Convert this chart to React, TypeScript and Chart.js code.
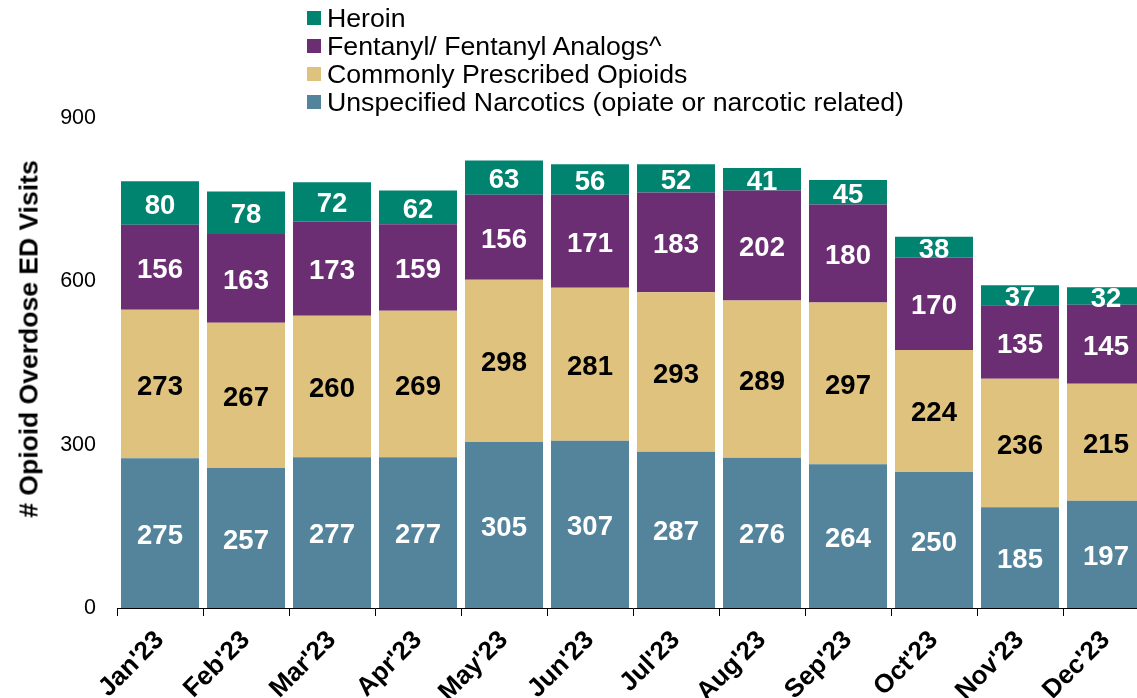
import React, { useEffect, useRef } from "react";
import { Chart, registerables } from "chart.js";

Chart.register(...registerables);

const categories = ["Jan'23", "Feb'23", "Mar'23", "Apr'23", "May'23", "Jun'23", "Jul'23", "Aug'23", "Sep'23", "Oct'23", "Nov'23", "Dec'23"];
const unspecified = [275, 257, 277, 277, 305, 307, 287, 276, 264, 250, 185, 197];
const prescribed = [273, 267, 260, 269, 298, 281, 293, 289, 297, 224, 236, 215];
const fentanyl = [156, 163, 173, 159, 156, 171, 183, 202, 180, 170, 135, 145];
const heroin = [80, 78, 72, 62, 63, 56, 52, 41, 45, 38, 37, 32];
const yTicks = [0, 300, 600, 900];

const COLORS = {
  heroin: "#008470",
  fentanyl: "#6b2e73",
  prescribed: "#dfc27e",
  unspecified: "#53849c",
};

const FONT = "'Liberation Sans', Arial, sans-serif";
const CANVAS_W = 1162;
const CANVAS_H = 698;
const PLOT_LEFT = 117;
const PLOT_RIGHT = 1149;
const PLOT_TOP = 118;
const PLOT_BOTTOM = 608;

const legendItems = [
  { label: "Heroin", color: COLORS.heroin },
  { label: "Fentanyl/ Fentanyl Analogs^", color: COLORS.fentanyl },
  { label: "Commonly Prescribed Opioids", color: COLORS.prescribed },
  { label: "Unspecified Narcotics (opiate or narcotic related)", color: COLORS.unspecified },
];

const labelPlugin = {
  id: "segLabels",
  afterDatasetsDraw(chart: any) {
    const ctx = chart.ctx;
    ctx.save();
    ctx.font = `bold 27.5px ${FONT}`;
    ctx.textAlign = "center";
    ctx.textBaseline = "middle";
    chart.data.datasets.forEach((ds: any, di: number) => {
      const meta = chart.getDatasetMeta(di);
      ctx.fillStyle = ds.labelColor;
      meta.data.forEach((el: any, i: number) => {
        const y = (el.y + el.base) / 2;
        ctx.fillText(String(ds.data[i]), el.x, y + 3);
      });
    });
    ctx.restore();
  },
};

export default function App() {
  const ref = useRef<HTMLCanvasElement | null>(null);
  useEffect(() => {
    if (!ref.current) return;
    const chart = new Chart(ref.current, {
      type: "bar",
      data: {
        labels: categories,
        datasets: [
          { label: "Unspecified Narcotics (opiate or narcotic related)", data: unspecified, backgroundColor: COLORS.unspecified, labelColor: "#ffffff" } as any,
          { label: "Commonly Prescribed Opioids", data: prescribed, backgroundColor: COLORS.prescribed, labelColor: "#000000" } as any,
          { label: "Fentanyl/ Fentanyl Analogs^", data: fentanyl, backgroundColor: COLORS.fentanyl, labelColor: "#ffffff" } as any,
          { label: "Heroin", data: heroin, backgroundColor: COLORS.heroin, labelColor: "#ffffff" } as any,
        ],
      },
      options: {
        responsive: false,
        animation: false,
        devicePixelRatio: 1,
        layout: { padding: { top: PLOT_TOP, right: CANVAS_W - PLOT_RIGHT, left: 0, bottom: 0 } },
        datasets: { bar: { barPercentage: 0.907, categoryPercentage: 1, borderWidth: 0 } },
        plugins: { legend: { display: false }, tooltip: { enabled: false } },
        scales: {
          x: {
            stacked: true,
            grid: { display: true, drawOnChartArea: false, drawTicks: true, tickLength: 8, color: "#000000", offset: true },
            border: { display: true, color: "#000000", width: 1 },
            ticks: {
              color: "#000000",
              font: { family: FONT, size: 26, weight: "bold" },
              maxRotation: 45,
              minRotation: 45,
              padding: 9,
            },
            afterFit(scale: any) {
              scale.height = CANVAS_H - PLOT_BOTTOM;
            },
          },
          y: {
            stacked: true,
            min: 0,
            max: 900,
            afterBuildTicks(scale: any) {
              scale.ticks = yTicks.map((v) => ({ value: v }));
            },
            grid: { display: false },
            border: { display: false },
            ticks: {
              color: "#000000",
              font: { family: FONT, size: 21.5 },
              padding: 13,
            },
            afterFit(scale: any) {
              scale.width = PLOT_LEFT;
            },
          },
        },
      },
      plugins: [labelPlugin],
    });
    return () => chart.destroy();
  }, []);

  return (
    <div style={{ position: "fixed", left: 0, top: 0, width: 1137, height: 698, overflow: "hidden", background: "#fff" }}>
      <canvas ref={ref} width={CANVAS_W} height={CANVAS_H} style={{ position: "absolute", left: 0, top: 0, width: CANVAS_W, height: CANVAS_H }} />
      <div style={{ position: "absolute", left: 307, top: 4, fontFamily: FONT, fontSize: 26.7, color: "#000", lineHeight: "28px" }}>
        {legendItems.map((it) => (
          <div key={it.label} style={{ display: "flex", alignItems: "center", height: 28, whiteSpace: "nowrap" }}>
            <span style={{ display: "inline-block", width: 14, height: 14, background: it.color, marginRight: 6 }} />
            <span>{it.label}</span>
          </div>
        ))}
      </div>
      <div
        style={{
          position: "absolute",
          left: 29,
          top: 339,
          transform: "translate(-50%, -50%) rotate(-90deg)",
          fontFamily: FONT,
          fontSize: 26.5,
          fontWeight: "bold",
          color: "#000",
          whiteSpace: "nowrap",
        }}
      >
        # Opioid Overdose ED Visits
      </div>
    </div>
  );
}
